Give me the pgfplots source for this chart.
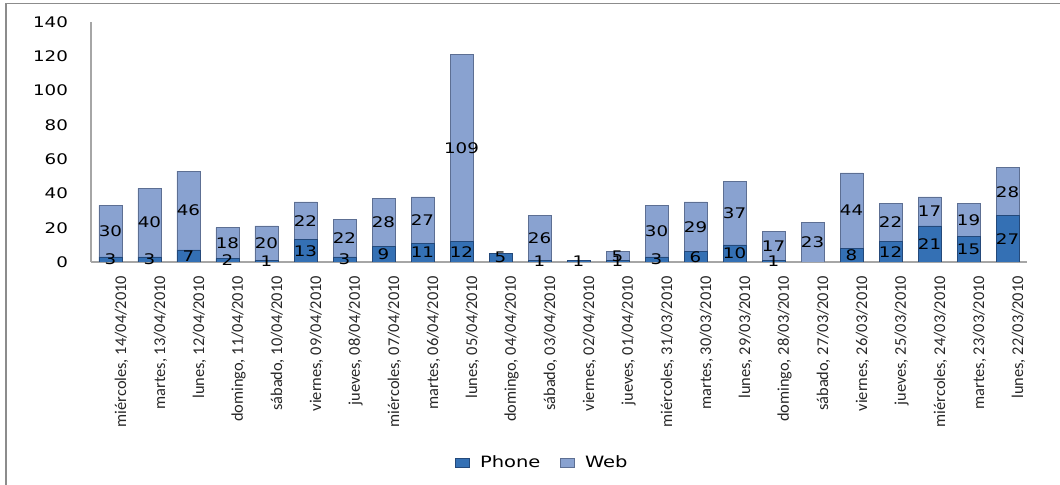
\documentclass[border=0pt]{standalone}
\usepackage{pgfplots}
\pgfplotsset{compat=1.18}
\usepackage{pgfplotstable}
\usepackage{fontspec}
\setmainfont[FakeStretch=1.25]{DejaVu Sans}
\newfontfamily\catfont{Carlito}

\definecolor{phoneC}{HTML}{3470B4}
\definecolor{phoneD}{HTML}{24497A}
\definecolor{webC}{HTML}{89A2D0}
\definecolor{webD}{HTML}{5D6F93}
\definecolor{axisgray}{HTML}{A6A6A6}
\definecolor{framegray}{HTML}{8C8C8C}

\pgfplotstableread{
x phone web
0 3 30
1 3 40
2 7 46
3 2 18
4 1 20
5 13 22
6 3 22
7 9 28
8 11 27
9 12 109
10 5 0
11 1 26
12 1 0
13 1 5
14 3 30
15 6 29
16 10 37
17 1 17
18 0 23
19 8 44
20 12 22
21 21 17
22 15 19
23 27 28
}\datatable

\pgfplotsset{
  /pgf/number format/assume math mode=true,
  common/.style={
    at={(0,0)}, anchor=south west,
    scale only axis, width=468pt, height=120pt,
    xmin=-0.5, xmax=23.5, ymin=0, ymax=140,
  },
}

\begin{document}
\begin{tikzpicture}
\begin{axis}[
  common,
  ybar stacked, bar width=11.5pt,
  xtick={0,...,23},
  xticklabels={{miércoles, 14/04/2010},{martes, 13/04/2010},{lunes, 12/04/2010},
    {domingo, 11/04/2010},{sábado, 10/04/2010},{viernes, 09/04/2010},
    {jueves, 08/04/2010},{miércoles, 07/04/2010},{martes, 06/04/2010},
    {lunes, 05/04/2010},{domingo, 04/04/2010},{sábado, 03/04/2010},
    {viernes, 02/04/2010},{jueves, 01/04/2010},{miércoles, 31/03/2010},
    {martes, 30/03/2010},{lunes, 29/03/2010},{domingo, 28/03/2010},
    {sábado, 27/03/2010},{viernes, 26/03/2010},{jueves, 25/03/2010},
    {miércoles, 24/03/2010},{martes, 23/03/2010},{lunes, 22/03/2010}},
  ytick={0,20,...,140},
  yticklabels={0,20,40,60,80,100,120,140},
  axis x line*=bottom, axis y line*=left,
  axis line style={axisgray, line width=0.6pt},
  major tick length=0pt,
  yticklabel style={font=\fontsize{7.3}{8}\selectfont, text=black, xshift=-8pt},
  % rotated labels: local x points up, local y points left
  xticklabel style={rotate=90, anchor=east, font=\catfont\fontsize{8.2}{9}\selectfont,
    text=black!85, yshift=-5.5pt, xshift=-3.5pt},
  legend style={at={(0.4834,-0.8375)}, anchor=center, draw=none, fill=none,
    legend columns=-1, font=\fontsize{7.8}{8.5}\selectfont,
    /tikz/every odd column/.append style={column sep=3pt},
    /tikz/every even column/.append style={column sep=8pt}},
  legend image code/.code={\fill[#1] (0pt,-2.3pt) rectangle (7pt,2.3pt);},
]
\addplot[fill=phoneC, draw=phoneD, line width=0.3pt]
  table[x=x, y=phone]{\datatable};
\addplot[fill=webC, draw=webD, line width=0.3pt]
  table[x=x, y=web]{\datatable};
\legend{Phone,Web}
\end{axis}

% segment labels, centred in each segment
\begin{axis}[
  common, hide axis,
  nodes near coords, point meta=explicit,
  nodes near coords align=center,
  every node near coord/.append style={font=\fontsize{7.3}{8}\selectfont, text=black, inner sep=0pt},
]
\addplot[draw=none, mark=none, restrict expr to domain={\thisrow{phone}}{0.5:1000}]
  table[x=x, y expr=\thisrow{phone}/2, meta=phone]{\datatable};
\addplot[draw=none, mark=none, restrict expr to domain={\thisrow{web}}{0.5:1000}]
  table[x=x, y expr=\thisrow{phone}+\thisrow{web}/2, meta=web]{\datatable};
\end{axis}

\draw[framegray, line width=0.8pt] (-42.5pt,-111.5pt) -- (-42.5pt,129.2pt) -- (484.5pt,129.2pt);
\pgfresetboundingbox
\path[use as bounding box] (-45.5pt,-111.5pt) rectangle (484.5pt,131pt);
\end{tikzpicture}
\end{document}
